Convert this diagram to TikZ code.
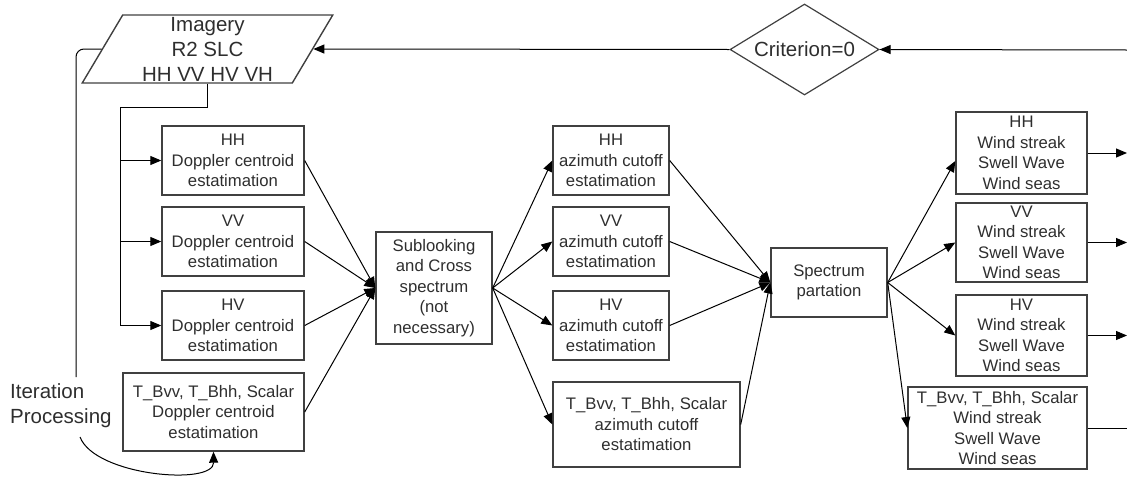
\documentclass[tikz,border=0pt]{standalone}
\usepackage{fontspec}
\setmainfont{Liberation Sans}
\usepackage{tikz}
\usetikzlibrary{arrows.meta,shapes.geometric}
\definecolor{boxline}{HTML}{404040}
\definecolor{boxtext}{HTML}{2E2E2E}
\tikzset{
  box/.style={draw=boxline, line width=1.4pt, text=boxtext, align=center, inner sep=0pt,
    font=\fontsize{16.7}{20.5}\selectfont},
  bigtext/.style={text=boxtext, inner sep=0pt, font=\fontsize{20.5}{25}\selectfont},
  conn/.style={draw=black, line width=1pt, -{Triangle[length=11pt,width=9pt]}},
  plain/.style={draw=black, line width=1pt},
}

\begin{document}
\begin{tikzpicture}[x=1pt,y=-1pt]
\useasboundingbox (0,0) rectangle (1127,477);

\node[bigtext, trapezium, trapezium left angle=64, trapezium right angle=116, trapezium stretches=true,
  draw=boxline, line width=1.4pt, minimum width=251, minimum height=68, align=center] (img) at (207.5,49) {Imagery\\R2 SLC\\HH VV HV VH};
\node[bigtext, diamond, aspect=1.6, draw=boxline, line width=1.2pt, minimum width=149, minimum height=91] (crit) at (804.5,49.5) {Criterion=0};
\node[bigtext, align=left, anchor=north west] (iter) at (10,383) {Iteration\\Processing};

\node[box, minimum width=142, minimum height=69] (HHd) at (233,160.5) {HH\\Doppler centroid\\estatimation};
\node[box, minimum width=142, minimum height=69] (VVd) at (233,241.5) {VV\\Doppler centroid\\estatimation};
\node[box, minimum width=142, minimum height=69] (HVd) at (233,325.5) {HV\\Doppler centroid\\estatimation};
\node[box, minimum width=181, minimum height=78] (Td) at (213.5,412) {T\_Bvv, T\_Bhh, Scalar\\Doppler centroid\\estatimation};

\node[box, minimum width=116, minimum height=112] (sub) at (434,288) {Sublooking\\and Cross\\spectrum\\(not\\necessary)};

\node[box, minimum width=116, minimum height=69] (HHa) at (611,160.5) {HH\\azimuth cutoff\\estatimation};
\node[box, minimum width=116, minimum height=69] (VVa) at (611,241.5) {VV\\azimuth cutoff\\estatimation};
\node[box, minimum width=116, minimum height=69] (HVa) at (611,325.5) {HV\\azimuth cutoff\\estatimation};
\node[box, minimum width=187, minimum height=85] (Ta) at (646.5,424.5) {T\_Bvv, T\_Bhh, Scalar\\azimuth cutoff\\estatimation};

\node[box, minimum width=116, minimum height=69] (spec) at (829,282.5) {Spectrum\\partation};

\node[box, minimum width=131, minimum height=82] (HHw) at (1021.5,153) {HH\\Wind streak\\Swell Wave\\Wind seas};
\node[box, minimum width=131, minimum height=79] (VVw) at (1021.5,242.5) {VV\\Wind streak\\Swell Wave\\Wind seas};
\node[box, minimum width=131, minimum height=81] (HVw) at (1021.5,335.5) {HV\\Wind streak\\Swell Wave\\Wind seas};
\node[box, minimum width=179, minimum height=82] (Tw) at (997.5,428) {T\_Bvv, T\_Bhh, Scalar\\Wind streak\\Swell Wave\\Wind seas};

\coordinate (edge) at (1127,0);
\coordinate (ret) at (1127,50);
\coordinate (bus) at (120,107);
\coordinate (loop) at (76,377);
\coordinate (curl) at (80,437);

\draw[conn] (ret) -- (crit.east);
\draw[conn] (crit.west) -- (img.east);
\draw[conn] (img.south) |- (bus) |- (HVd.west);
\draw[conn] (bus |- HHd.west) -- (HHd.west);
\draw[conn] (bus |- VVd.west) -- (VVd.west);
\draw[plain, rounded corners=8] (img.west) -| (loop);
\draw[conn] (curl) .. controls (95,476) and (214,486) .. (Td.south);

\draw[conn] (HHd.east) -- (sub.west);
\draw[conn] (VVd.east) -- (sub.west);
\draw[conn] (HVd.east) -- (sub.west);
\draw[conn] (Td.east) -- (sub.west);

\draw[conn] (sub.east) -- (HHa.west);
\draw[conn] (sub.east) -- (VVa.west);
\draw[conn] (sub.east) -- (HVa.west);
\draw[conn] (sub.east) -- (Ta.west);

\draw[conn] (HHa.east) -- (spec.west);
\draw[conn] (VVa.east) -- (spec.west);
\draw[conn] (HVa.east) -- (spec.west);
\draw[conn] (Ta.east) -- (spec.west);

\draw[conn] (spec.east) -- ([yshift=-8pt]HHw.west);
\draw[conn] (spec.east) -- (VVw.west);
\draw[conn] (spec.east) -- (HVw.west);
\draw[conn] (spec.east) -- (Tw.west);

\draw[conn] (HHw.east) -- (HHw.east -| edge);
\draw[conn] (VVw.east) -- (VVw.east -| edge);
\draw[conn] (HVw.east) -- (HVw.east -| edge);
\draw[plain] (Tw.east) -- (Tw.east -| edge);
\end{tikzpicture}
\end{document}
